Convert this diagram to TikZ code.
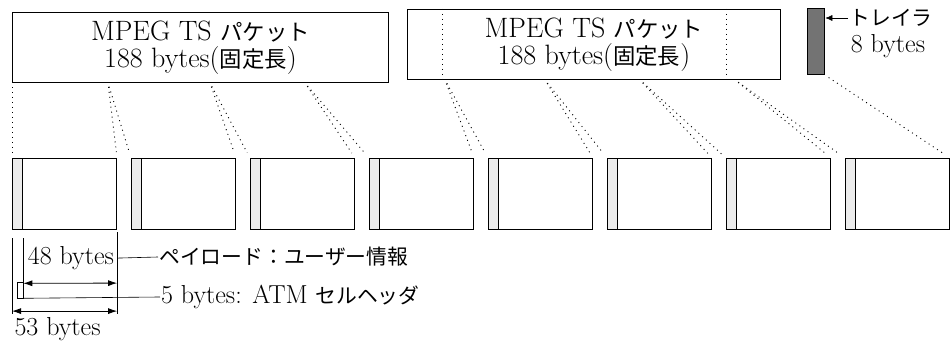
\documentclass[tikz,border=0pt]{standalone}
\usepackage{fontspec}
\newfontfamily\jpfont[Scale=0.8]{Noto Sans CJK JP}
\usetikzlibrary{arrows.meta, positioning, calc}

\begin{document}
\begin{tikzpicture}[
    x=1pt, y=-1pt,
    packet/.style={
        draw=black,
        line width=0.9pt,
        anchor=north west,
        minimum height=70pt,
        inner sep=0pt,
        align=center,
        font=\fontsize{28}{27}\selectfont
    },
    cell/.style={
        draw=black,
        line width=1.1pt,
        anchor=north west,
        minimum width=104pt,
        minimum height=71pt,
        inner sep=0pt
    },
    hdr/.style={
        draw=black,
        line width=1.3pt,
        fill=gray!15,
        anchor=north west,
        minimum width=10pt,
        minimum height=71pt,
        inner sep=0pt
    },
    trailer/.style={
        draw=black,
        line width=1.3pt,
        fill=black!55,
        anchor=north west,
        minimum width=17pt,
        minimum height=66pt,
        inner sep=0pt
    },
    label/.style={font=\fontsize{26}{28}\selectfont, inner sep=1pt},
    dots/.style={line width=0.9pt, dash pattern=on 1pt off 4pt, shorten <=4pt, shorten >=6pt},
    dim/.style={{Latex[length=9pt,width=6pt]}-{Latex[length=9pt,width=6pt]}, line width=0.8pt},
    lead/.style={line width=0.6pt}
]
\useasboundingbox (0,0) rectangle (950,344);

% MPEG TS packets and trailer
\node[packet, minimum width=376pt] (pk1) at (12,12) {MPEG TS {\jpfont パケット}\\188 bytes({\jpfont 固定長})};
\node[packet, minimum width=373pt] (pk2) at (407,9) {MPEG TS {\jpfont パケット}\\188 bytes({\jpfont 固定長})};
\draw[dots, shorten <=0pt, shorten >=0pt] ($(pk2.north west)+(35,0)$) -- ($(pk2.south west)+(35,0)$);
\draw[dots, shorten <=0pt, shorten >=0pt] ($(pk2.north west)+(319,0)$) -- ($(pk2.south west)+(319,0)$);
\node[trailer] (tr) at (807,8) {};
\node[label] (trl) at (891,18) {\jpfont トレイラ};
\node[label] (trb) at (888,46) {8 bytes};
\draw[lead, -{Latex[length=7pt,width=6pt]}] (trl.west) -- (trl.west -| tr.east);

% ATM cells
\foreach \i in {1,...,8}{
    \node[cell] (c\i) at ({12+119*(\i-1)},158) {};
    \node[hdr] (h\i) at (c\i.north west) {};
}

% split points on the packets
\coordinate (s1) at ($(pk1.south west)+(96,0)$);
\coordinate (s2) at ($(pk1.south west)+(198,0)$);
\coordinate (s3) at ($(pk1.south west)+(293,0)$);
\coordinate (s4) at ($(pk2.south west)+(38,0)$);
\coordinate (s5) at ($(pk2.south west)+(138,0)$);
\coordinate (s6) at ($(pk2.south west)+(233,0)$);
\coordinate (s7) at ($(pk2.south west)+(328,0)$);

\draw[dots] (pk1.south west) -- (c1.north west);
\foreach \a/\b [count=\k] in {1/2,2/3,3/4,4/5,5/6,6/7,7/8}{
    \draw[dots] (s\k) -- (c\a.north east);
    \draw[dots] (s\k) -- (c\b.north west);
}
\draw[dots] (tr.south east) -- (c8.north east);

% sizes of one cell
\draw[lead] ($(c1.south west)+(0,8)$) -- ($(c1.south west)+(0,84)$);
\draw[lead] ($(h1.south east)+(0,8)$) -- ($(h1.south east)+(0,68)$);
\draw[lead] ($(c1.south east)+(0,2)$) -- ($(c1.south east)+(0,84)$);
\draw[dim] ($(h1.south east)+(0,53)$) -- ($(c1.south east)+(0,53)$);
\draw[dim] ($(c1.south west)+(0,81)$) -- ($(c1.south east)+(0,81)$);
\node[draw, lead, minimum width=6pt, minimum height=16pt, inner sep=0pt, anchor=south east] (hm) at ($(h1.south east)+(0,68)$) {};

\node[label, anchor=east] (b48) at ($(c1.south east)+(-2,28)$) {48 bytes};
\node[label] (b53) at ($(c1.south)+(-7,99)$) {53 bytes};
\node[label, anchor=west] (pay) at (158,257) {\jpfont ペイロード：ユーザー情報};
\node[label, anchor=west] (hdt) at (160,297) {5 bytes: ATM {\jpfont セルヘッダ}};
\draw[lead] (b48.east -| c1.east) -- (pay.west);
\draw[lead] (hm.south east) -- (hdt.west);

\end{tikzpicture}
\end{document}
